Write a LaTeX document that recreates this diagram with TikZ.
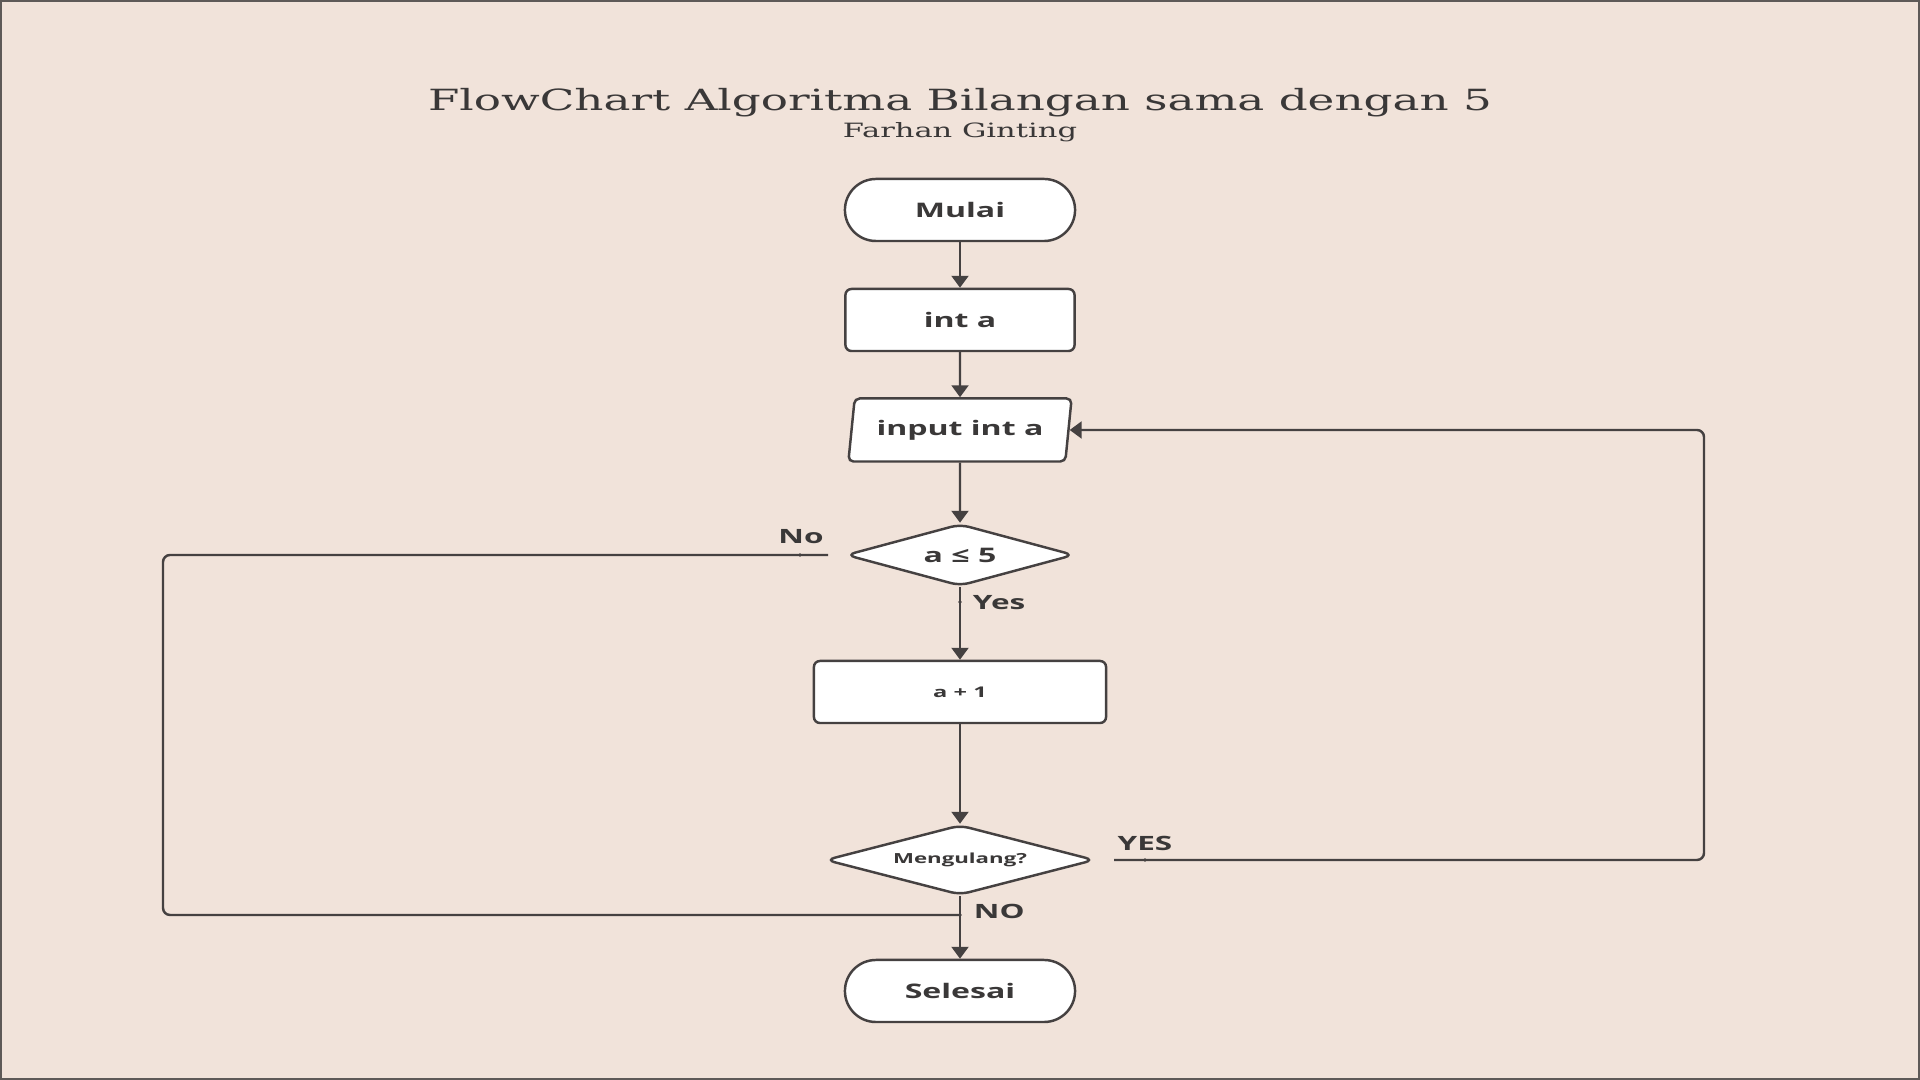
\documentclass[tikz,border=0pt]{standalone}
\usepackage{fontspec}
\setmainfont{Open Sans}[FakeStretch=1.6]
\newfontfamily\slabfont{DejaVu Serif}[FakeStretch=1.55]
\usetikzlibrary{positioning, shapes, shapes.geometric, arrows.meta}

\definecolor{paper}{HTML}{F1E3DA}
\definecolor{ink}{HTML}{3A3838}
\definecolor{wire}{HTML}{454141}
\definecolor{frame}{HTML}{5E5A58}

\begin{document}
\begin{tikzpicture}[x=0.01cm, y=-0.01cm, line width=0.7pt,
    every node/.style={text=ink, font=\bfseries\fontsize{5.7}{7}\selectfont},
    terminal/.style={draw=wire, fill=white, rounded corners=0.31cm, minimum width=2.30cm, minimum height=0.62cm, inner sep=0pt},
    process/.style={draw=wire, fill=white, rounded corners=0.06cm, minimum width=2.29cm, minimum height=0.62cm, inner sep=0pt},
    inout/.style={draw=wire, fill=white, trapezium, trapezium left angle=76, trapezium right angle=104, trapezium stretches=true, rounded corners=0.05cm, minimum width=2.24cm, minimum height=0.63cm, inner sep=0pt},
    decision/.style={draw=wire, fill=white, diamond, aspect=3.8, rounded corners=0.09cm, inner sep=0pt},
    flow/.style={draw=wire, -{Triangle[length=3.4pt, width=4.8pt]}},
    loop/.style={draw=wire, rounded corners=0.07cm},
    answer/.style={font=\bfseries\fontsize{5.6}{7}\selectfont},
    tick/.style={fill=wire}
]
    % Page and frame
    \useasboundingbox (0,0) rectangle (1920,1080);
    \fill[paper] (0,0) rectangle (1920,1080);
    \draw[line width=0.7pt, frame] (1,1) rectangle (1919,1079);

    % Title
    \node[font=\slabfont\fontsize{8.3}{10}\selectfont] (Judul) at (960,103) {FlowChart Algoritma Bilangan sama dengan 5};
    \node[font=\slabfont\fontsize{5.6}{7}\selectfont] (Penulis) at (960,132) {Farhan Ginting};

    % Draw the boxes
    \node[terminal] (Mulai) at (960,210) {Mulai};
    \node[process] (IntA) at (960,320) {int a};
    \node[inout] (Input) at (960,430) {input int a};
    \node[decision, minimum width=2.28cm, minimum height=0.62cm] (Cek) at (960,555) {a ≤ 5};
    \node[process, minimum width=2.92cm, font=\bfseries\fontsize{4.2}{5}\selectfont] (Tambah) at (960,692) {a + 1};
    \node[decision, minimum width=2.69cm, minimum height=0.70cm, font=\bfseries\fontsize{3.95}{5}\selectfont] (Ulang) at (960,860) {Mengulang?};
    \node[terminal] (Selesai) at (960,991) {Selesai};

    % Labels on the branches
    \node[answer] (LabelNo) at (801,537) {No};
    \node[answer, anchor=west] (LabelYes) at (960,603) {Yes};
    \node[answer] (LabelYES) at (1145,843) {YES};
    \node[answer, anchor=west] (LabelNO) at (961,911) {NO};

    \coordinate (NoStart) at (828,555);
    \coordinate (NoJoin) at (960,915);
    \coordinate (YesStart) at (1114,860);
    \coordinate (RightTurn) at (1704,430);

    % Draw the main flow
    \draw[flow] (Mulai) -- (IntA);
    \draw[flow] (IntA) -- (Input);
    \draw[flow] (Input) -- (Cek);
    \draw[flow] (Cek) -- (Tambah);
    \draw[flow] (Tambah) -- (Ulang);
    \draw[flow] (Ulang) -- (Selesai);

    % Draw the loops back
    \draw[loop] (NoStart) -| (163,915) -- (NoJoin);
    \draw[flow, rounded corners=0.07cm] (YesStart) -| (RightTurn) -- (Input.east);

    % Small dots where the labels sit
    \fill[tick] (800,555) circle[radius=0.018cm];
    \fill[tick] (960,602) circle[radius=0.018cm];
    \fill[tick] (1145,860) circle[radius=0.018cm];
    \fill[tick] (960,915) circle[radius=0.018cm];

\end{tikzpicture}
\end{document}
